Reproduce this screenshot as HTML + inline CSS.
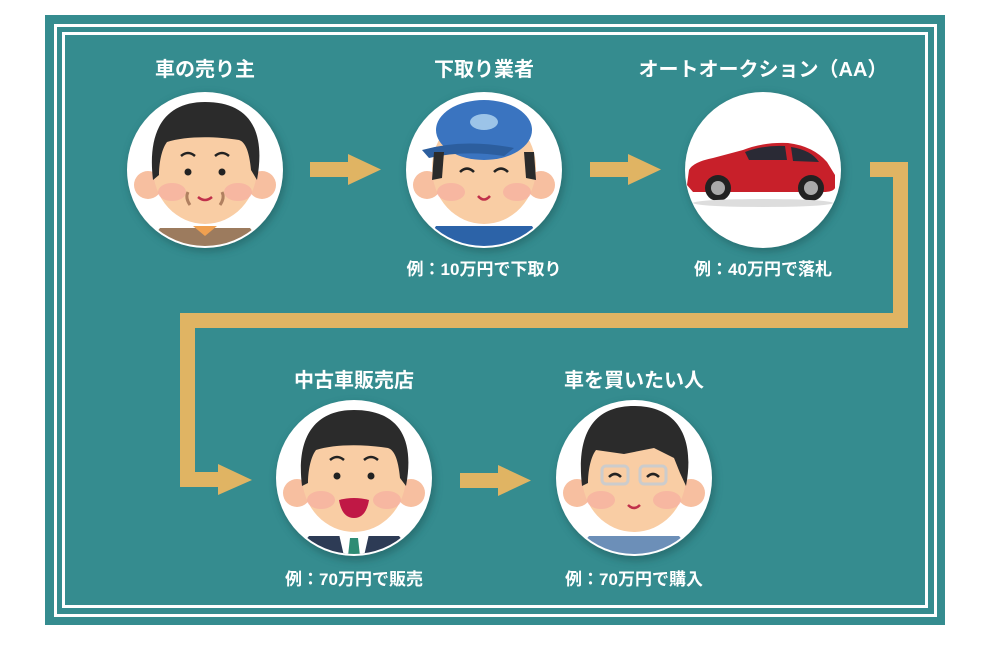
<!DOCTYPE html>
<html><head><meta charset="utf-8"><style>
html,body{margin:0;padding:0;background:#fff;}
svg text{font-family:"Liberation Sans","Noto Sans CJK JP",sans-serif;font-weight:bold;fill:#fff;text-anchor:middle;}
</style></head><body>
<svg width="990" height="640" viewBox="0 0 990 640" xmlns="http://www.w3.org/2000/svg">
<defs>
<filter id="sh" x="-30%" y="-30%" width="160%" height="160%"><feGaussianBlur stdDeviation="4"/></filter>
<clipPath id="cc"><circle cx="0" cy="0" r="76"/></clipPath>
<g id="face">
 <circle cx="-57" cy="15" r="14" fill="#F7BFA0"/>
 <circle cx="57" cy="15" r="14" fill="#F7BFA0"/>
 <ellipse cx="0" cy="-2" rx="52" ry="56" fill="#F9CDA4"/>
 <ellipse cx="-33" cy="22" rx="14" ry="9" fill="#F5A8A0" opacity="0.6"/>
 <ellipse cx="33" cy="22" rx="14" ry="9" fill="#F5A8A0" opacity="0.6"/>
</g>
</defs>
<rect x="45" y="15" width="900" height="610" fill="#358C8F"/>
<rect x="55.5" y="25.5" width="880" height="590" fill="none" stroke="#fff" stroke-width="3"/>
<rect x="63.5" y="33.5" width="863" height="573" fill="none" stroke="#fff" stroke-width="3"/>

<!-- connectors -->
<g fill="#E0B463">
 <rect x="310" y="162" width="38" height="15"/><polygon points="348,154 381,169.5 348,185"/>
 <rect x="590" y="162" width="38" height="15"/><polygon points="628,154 661,169.5 628,185"/>
 <rect x="460" y="473" width="38" height="15"/><polygon points="498,465 531,480.5 498,496"/>
 <polygon points="870,162 908,162 908,328 195,328 195,472 218,472 218,464 252,480 218,495 218,487 180,487 180,313 893,313 893,177 870,177"/>
</g>

<!-- circles -->
<g>
 <circle cx="207" cy="173" r="79" fill="#1c5557" opacity="0.5" filter="url(#sh)"/>
 <circle cx="486" cy="173" r="79" fill="#1c5557" opacity="0.5" filter="url(#sh)"/>
 <circle cx="765" cy="173" r="79" fill="#1c5557" opacity="0.5" filter="url(#sh)"/>
 <circle cx="356" cy="482" r="79" fill="#1c5557" opacity="0.5" filter="url(#sh)"/>
 <circle cx="636" cy="482" r="79" fill="#1c5557" opacity="0.5" filter="url(#sh)"/>
</g>

<!-- person 1 -->
<g transform="translate(205,170)">
 <circle r="78" fill="#fff"/>
 <g clip-path="url(#cc)">
  <path d="M-60,78 L-45,58 L45,58 L60,78 Z" fill="#9C7B5E"/>
  <polygon points="-12,56 12,56 0,66" fill="#F0A050"/>
  <use href="#face"/>
  <path d="M-52,10 C-58,-40 -40,-68 0,-68 C40,-68 62,-45 52,10 L46,0 C44,-20 40,-28 34,-30 C10,-34 -20,-34 -38,-28 C-44,-20 -46,-5 -46,5 Z" fill="#2b2b2b"/>
  <circle cx="-17" cy="2" r="3.5" fill="#222"/><circle cx="17" cy="2" r="3.5" fill="#222"/>
  <path d="M-24,-14 Q-17,-20 -10,-14 M10,-14 Q17,-20 24,-14" stroke="#222" stroke-width="2.5" fill="none"/>
  <path d="M-7,27 Q0,33 7,27" stroke="#C0304A" stroke-width="2.5" fill="none"/>
  <path d="M-17,22 Q-20,28 -15,35 M17,22 Q20,28 15,35" stroke="#B08060" stroke-width="3" fill="none"/>
 </g>
</g>

<!-- person 2 -->
<g transform="translate(484,170)">
 <circle r="78" fill="#fff"/>
 <g clip-path="url(#cc)">
  <path d="M-62,78 L-48,56 L48,56 L62,78 Z" fill="#2C63A8"/>
  <use href="#face"/>
  <ellipse cx="0" cy="-40" rx="48" ry="30" fill="#3A74C0"/>
  <path d="M-62,-20 Q-20,-32 30,-22 L20,-14 Q-20,-20 -55,-12 Z" fill="#2C5E9E"/>
  <ellipse cx="0" cy="-48" rx="14" ry="8" fill="#9CC4E8"/>
  <path d="M-52,10 L-50,-18 L-40,-18 L-42,8 Z M52,10 L50,-18 L40,-18 L42,8 Z" fill="#2b2b2b"/>
  <path d="M-24,2 Q-17,-5 -10,2 M10,2 Q17,-5 24,2" stroke="#222" stroke-width="2.5" fill="none"/>
  <path d="M-6,26 Q0,33 6,26" stroke="#C0304A" stroke-width="2.5" fill="none"/>
 </g>
</g>

<!-- car -->
<g transform="translate(763,170)">
 <circle r="78" fill="#fff"/>
 <path d="M-76,15 L-74,0 Q-70,-8 -50,-12 L-20,-20 Q0,-28 25,-27 Q50,-24 64,-8 L72,5 L72,18 Q70,22 60,22 L-70,22 Z" fill="#C8202A"/>
 <path d="M-18,-18 Q0,-25 22,-24 L24,-10 L-14,-10 Z" fill="#2a2a35"/>
 <path d="M28,-23 Q48,-20 56,-8 L30,-9 Z" fill="#2a2a35"/>
 <circle cx="-45" cy="18" r="13" fill="#222"/><circle cx="-45" cy="18" r="7" fill="#aaa"/>
 <circle cx="48" cy="18" r="13" fill="#222"/><circle cx="48" cy="18" r="7" fill="#aaa"/>
 <ellipse cx="0" cy="33" rx="70" ry="4" fill="#ddd"/>
</g>

<!-- person 4 -->
<g transform="translate(354,478)">
 <circle r="78" fill="#fff"/>
 <g clip-path="url(#cc)">
  <path d="M-62,78 L-45,58 L45,58 L62,78 Z" fill="#2D3B55"/>
  <polygon points="-15,56 15,56 10,78 -10,78" fill="#fff"/>
  <polygon points="-4,60 4,60 6,78 -6,78" fill="#2E8C74"/>
  <use href="#face"/>
  <path d="M-52,8 C-58,-40 -40,-68 0,-68 C40,-68 62,-45 52,8 L46,0 C44,-20 40,-28 34,-30 C10,-34 -20,-34 -38,-28 C-44,-20 -46,-5 -46,5 Z" fill="#2b2b2b"/>
  <circle cx="-17" cy="-2" r="3.5" fill="#222"/><circle cx="17" cy="-2" r="3.5" fill="#222"/>
  <path d="M-24,-18 Q-17,-24 -10,-18 M10,-18 Q17,-24 24,-18" stroke="#222" stroke-width="2.5" fill="none"/>
  <path d="M-15,22 Q0,18 15,22 Q12,40 0,40 Q-12,40 -15,22 Z" fill="#C01845"/>
 </g>
</g>

<!-- person 5 -->
<g transform="translate(634,478)">
 <circle r="78" fill="#fff"/>
 <g clip-path="url(#cc)">
  <path d="M-62,78 L-45,58 L45,58 L62,78 Z" fill="#6C8FB8"/>
  <use href="#face"/>
  <path d="M-52,8 C-58,-45 -40,-72 0,-72 C40,-72 62,-45 52,8 L46,-5 L40,-20 L20,-30 L-10,-24 L-38,-28 C-44,-20 -46,-5 -46,5 Z" fill="#2b2b2b"/>
  <rect x="-32" y="-12" width="26" height="18" rx="4" fill="none" stroke="#ccc" stroke-width="3"/>
  <rect x="6" y="-12" width="26" height="18" rx="4" fill="none" stroke="#ccc" stroke-width="3"/>
  <path d="M-25,-1 Q-19,-7 -13,-1 M13,-1 Q19,-7 25,-1" stroke="#222" stroke-width="2.5" fill="none"/>
  <path d="M-6,27 Q0,33 6,27" stroke="#C0304A" stroke-width="2.5" fill="none"/>
 </g>
</g>

<!-- labels -->
<g font-size="20">
 <text x="205" y="76">車の売り主</text>
 <text x="484" y="76">下取り業者</text>
 <text x="763" y="76">オートオークション（AA）</text>
 <text x="354" y="387">中古車販売店</text>
 <text x="634" y="387">車を買いたい人</text>
</g>
<g font-size="17">
 <text x="484" y="275">例：10万円で下取り</text>
 <text x="763" y="275">例：40万円で落札</text>
 <text x="354" y="585">例：70万円で販売</text>
 <text x="634" y="585">例：70万円で購入</text>
</g>
</svg>
</body></html>
